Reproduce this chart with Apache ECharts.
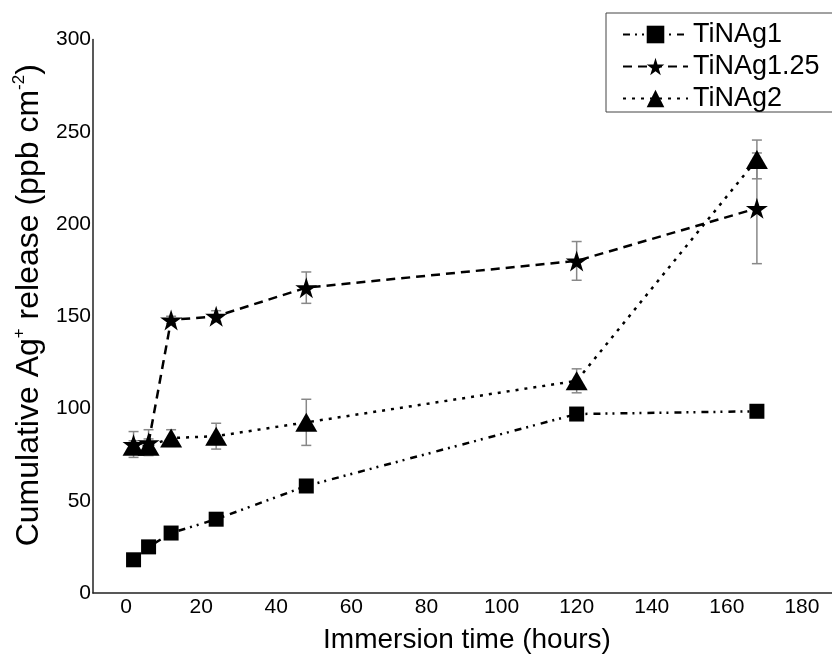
<!DOCTYPE html>
<html>
<head>
<meta charset="utf-8">
<script src="https://cdn.jsdelivr.net/npm/echarts@6/dist/echarts.min.js"></script>
<style>
  html, body { margin: 0; padding: 0; background: #fff; }
  #chart { width: 832px; height: 659px; }
</style>
</head>
<body>
<div id="chart"></div>
<script>
// Cumulative Ag+ release vs immersion time, three coatings with error bars
const hours = [2, 6, 12, 24, 48, 120, 168]
const xTicks = [0, 20, 40, 60, 80, 100, 120, 140, 160, 180]

const tiNAg1 = [18, 25, 32.5, 40, 58, 97, 98.5]
const tiNAg1Err = [2, 2, 2, 2, 2, 2, 2]

const tiNAg125 = [80.5, 81.5, 148, 150, 165.5, 180, 208.5]
const tiNAg125Err = [7, 7, 2, 3, 8.5, 10.5, 30]

const tiNAg2 = [79.5, 79.5, 84, 85, 92.5, 115, 235]
const tiNAg2Err = [3, 4, 4.5, 7, 12.5, 6.5, 10.5]

const STAR = 'path://M50,0 L61,35 L98,35 L68,57 L79,91 L50,70 L21,91 L32,57 L2,35 L39,35 Z'
const FONT = "'Liberation Sans', Arial, sans-serif"

const pairs = (ys) => hours.map((h, i) => [h, ys[i]])
const bars = (ys, err) => hours.map((h, i) => [h, ys[i] - err[i], ys[i] + err[i]])

const errorSeries = (name, ys, err) => ({
  type: 'custom',
  name: name + ' err',
  data: bars(ys, err),
  encode: { x: 0, y: [1, 2] },
  z: 1,
  silent: true,
  renderItem: (params, api) => {
    const x = api.value(0)
    const lo = api.coord([x, api.value(1)])
    const hi = api.coord([x, api.value(2)])
    const w = 5
    const style = { stroke: '#888', lineWidth: 1.5 }
    return {
      type: 'group',
      children: [
        { type: 'line', shape: { x1: lo[0], y1: lo[1], x2: hi[0], y2: hi[1] }, style },
        { type: 'line', shape: { x1: lo[0] - w, y1: lo[1], x2: lo[0] + w, y2: lo[1] }, style },
        { type: 'line', shape: { x1: hi[0] - w, y1: hi[1], x2: hi[0] + w, y2: hi[1] }, style },
      ],
    }
  },
})

const lineSeries = (name, ys, symbol, size, dash) => ({
  type: 'line',
  name,
  data: pairs(ys),
  symbol,
  symbolSize: size,
  showAllSymbol: true,
  z: 3,
  itemStyle: { color: '#000', borderWidth: 0 },
  lineStyle: { color: '#000', width: 2.5, type: dash },
})

const chart = echarts.init(document.getElementById('chart'), null, { renderer: 'canvas' })

chart.setOption({
  backgroundColor: '#fff',
  animation: false,
  textStyle: { fontFamily: FONT },
  grid: { left: 93, right: 0, top: 39.5, bottom: 62.5 },
  legend: {
    orient: 'vertical',
    left: 606,
    top: 13,
    padding: [8, 13, 0, 16],
    backgroundColor: '#fff',
    borderColor: '#444',
    borderWidth: 1,
    itemWidth: 65,
    itemHeight: 22,
    itemGap: 5,
    textStyle: { fontSize: 27, color: '#000', fontFamily: FONT },
    data: ['TiNAg1', 'TiNAg1.25', 'TiNAg2'],
  },
  xAxis: {
    type: 'value',
    min: -8.8,
    max: 188,
    name: 'Immersion time (hours)',
    nameLocation: 'middle',
    nameGap: 33,
    nameTextStyle: { fontSize: 28, color: '#000', padding: [0, 0, 0, 9] },
    axisLine: { onZero: false, lineStyle: { color: '#222', width: 1.5 } },
    axisTick: { show: false },
    splitLine: { show: false },
    axisLabel: { customValues: xTicks, fontSize: 21, color: '#000', margin: 4 },
  },
  yAxis: {
    type: 'value',
    min: 0,
    max: 300,
    interval: 50,
    name: '{a|Cumulative Ag}{s|+}{a| release (ppb cm}{s|-2}{a|)}',
    nameLocation: 'middle',
    nameRotate: 90,
    nameGap: 44,
    nameTextStyle: {
      color: '#000',
      padding: [0, 0, 0, 22],
      rich: {
        a: { fontSize: 32, color: '#000', fontFamily: FONT, verticalAlign: 'bottom', lineHeight: 34 },
        s: { fontSize: 17, color: '#000', fontFamily: FONT, verticalAlign: 'top', lineHeight: 34 },
      },
    },
    axisLine: { show: true, onZero: false, lineStyle: { color: '#222', width: 1.5 } },
    axisTick: { show: false },
    splitLine: { show: false },
    axisLabel: { fontSize: 21, color: '#000', margin: 2 },
  },
  series: [
    errorSeries('TiNAg1', tiNAg1, tiNAg1Err),
    errorSeries('TiNAg1.25', tiNAg125, tiNAg125Err),
    errorSeries('TiNAg2', tiNAg2, tiNAg2Err),
    lineSeries('TiNAg1', tiNAg1, 'rect', 15, [7, 5, 2, 5, 2, 6]),
    lineSeries('TiNAg1.25', tiNAg125, STAR, [22, 21], [9, 6]),
    lineSeries('TiNAg2', tiNAg2, 'triangle', [22, 19], [3, 6]),
  ],
})
</script>
</body>
</html>
